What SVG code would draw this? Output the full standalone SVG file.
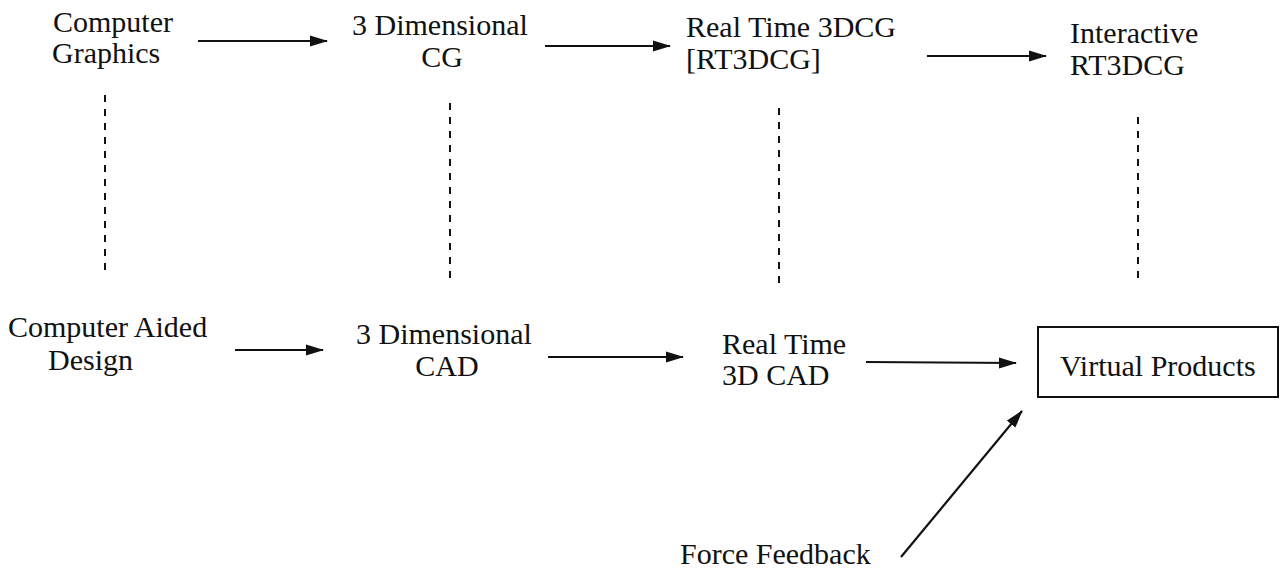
<svg xmlns="http://www.w3.org/2000/svg" width="1286" height="579" viewBox="0 0 1286 579">
  <style>
    .lbl { font-family: "Liberation Serif", "Times New Roman", serif; font-size: 30px; fill: #111; }
    .arrow { stroke: #111; stroke-width: 2.2; fill: none; marker-end: url(#head); }
    .dash { stroke: #111; stroke-width: 2; stroke-dasharray: 7 7; fill: none; }
    .box { stroke: #111; stroke-width: 2; fill: #fff; }
  </style>
  <defs>
    <marker id="head" markerUnits="userSpaceOnUse" markerWidth="18" markerHeight="12" refX="17" refY="6" orient="auto">
      <path d="M0,0.5 L18,6 L0,11.5 z" fill="#111"/>
    </marker>
  </defs>
  <rect width="1286" height="579" fill="#fff"/>

  <!-- connectors -->
  <g id="connectors">
    <line class="arrow" x1="198" y1="41" x2="327" y2="41"/>
    <line class="arrow" x1="545" y1="46" x2="670" y2="46"/>
    <line class="arrow" x1="927" y1="56" x2="1046" y2="56"/>
    <line class="arrow" x1="235" y1="350" x2="323" y2="350"/>
    <line class="arrow" x1="548" y1="357" x2="683" y2="357"/>
    <line class="arrow" x1="866" y1="362" x2="1016" y2="363"/>
    <line class="arrow" x1="901" y1="557" x2="1022" y2="411"/>
    <line class="dash" x1="105" y1="95" x2="105" y2="270"/>
    <line class="dash" x1="450" y1="103" x2="450" y2="278"/>
    <line class="dash" x1="779" y1="108" x2="779" y2="285"/>
    <line class="dash" x1="1138" y1="117" x2="1138" y2="280"/>
  </g>

  <!-- upper row -->
  <g id="computer-graphics">
    <text class="lbl" x="53" y="32">Computer</text>
    <text class="lbl" x="52" y="63">Graphics</text>
  </g>
  <g id="cg-3d">
    <text class="lbl" x="352" y="35">3 Dimensional</text>
    <text class="lbl" x="442" y="67" text-anchor="middle">CG</text>
  </g>
  <g id="rt3dcg">
    <text class="lbl" x="686" y="37">Real Time 3DCG</text>
    <text class="lbl" x="686" y="69">[RT3DCG]</text>
  </g>
  <g id="interactive-rt3dcg">
    <text class="lbl" x="1070" y="43">Interactive</text>
    <text class="lbl" x="1070" y="75">RT3DCG</text>
  </g>

  <!-- lower row -->
  <g id="cad">
    <text class="lbl" x="8" y="337">Computer Aided</text>
    <text class="lbl" x="48" y="370">Design</text>
  </g>
  <g id="cad-3d">
    <text class="lbl" x="356" y="344">3 Dimensional</text>
    <text class="lbl" x="447" y="376" text-anchor="middle">CAD</text>
  </g>
  <g id="rt-3d-cad">
    <text class="lbl" x="722" y="354">Real Time</text>
    <text class="lbl" x="722" y="385">3D CAD</text>
  </g>
  <g id="virtual-products">
    <rect class="box" x="1038" y="327" width="240" height="70"/>
    <text class="lbl" x="1060" y="376" font-size="31">Virtual Products</text>
  </g>
  <g id="force-feedback">
    <text class="lbl" x="680" y="564">Force Feedback</text>
  </g>
</svg>
